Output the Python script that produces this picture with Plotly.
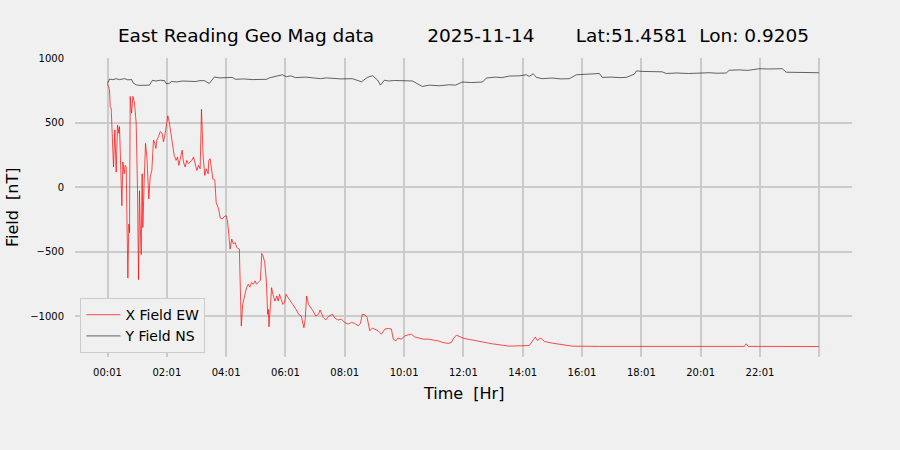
import plotly.graph_objects as go

# ---- data (hours since midnight, nT) ----
x_hours = [0.017, 0.084, 0.107, 0.14, 0.219, 0.264, 0.309, 0.354, 0.399, 0.421, 0.50, 0.534, 0.578, 0.612, 0.646,
           0.702, 0.736, 0.758, 0.781, 0.826, 0.871, 0.927, 0.983, 1.028, 1.062, 1.095, 1.118, 1.152, 1.185, 1.208,
           1.253, 1.298, 1.343, 1.41, 1.455, 1.511, 1.567, 1.612, 1.646, 1.68, 1.736, 1.792, 1.86, 1.904, 1.961,
           2.017, 2.05, 2.095, 2.152, 2.22, 2.264, 2.331, 2.376, 2.421, 2.466, 2.533, 2.578, 2.635, 2.691, 2.747,
           2.803, 2.859, 2.916, 2.972, 3.028, 3.084, 3.14, 3.185, 3.208, 3.241, 3.297, 3.343, 3.41, 3.432, 3.477,
           3.522, 3.567, 3.634, 3.68, 3.761, 3.817, 3.883, 3.95, 4.017, 4.061, 4.106, 4.15, 4.206, 4.261, 4.317,
           4.372, 4.461, 4.528, 4.572, 4.639, 4.706, 4.761, 4.817, 4.872, 4.928, 4.994, 5.039, 5.094, 5.172, 5.217,
           5.261, 5.317, 5.372, 5.417, 5.439, 5.461, 5.506, 5.55, 5.594, 5.661, 5.728, 5.772, 5.817, 5.872, 5.928,
           5.983, 6.039, 6.106, 6.172, 6.261, 6.372, 6.461, 6.55, 6.639, 6.683, 6.728, 6.794, 6.872, 6.95, 7.039,
           7.128, 7.183, 7.29, 7.376, 7.455, 7.6, 7.68, 7.79, 7.9, 8.017, 8.13, 8.24, 8.35, 8.47, 8.545, 8.61, 8.69,
           8.77, 8.86, 8.95, 9.03, 9.14, 9.25, 9.37, 9.48, 9.59, 9.65, 9.74, 9.81, 9.93, 10.04, 10.15, 10.26, 10.37,
           10.49, 10.66, 10.83, 11.0, 11.16, 11.33, 11.5, 11.61, 11.69, 11.78, 11.89, 12.03, 12.22, 12.55, 12.99,
           13.57, 14.24, 14.44, 14.51, 14.63, 14.75, 15.02, 15.48, 15.69, 16.6, 19.0, 19.03, 19.06, 21.49, 21.55,
           21.62, 24.0]
x_field_ew = [800, 755, 625, 612, 156, 443, 117, 482, 417, 469, -143, 195, 104, 169, 156,
              -703, -286, -352, 703, 573, 703, 651, 495, -26, -716, -26, -286, -521, 104, -312,
              52, 339, 234, -91, 78, 130, 365, 339, 300, 365, 391, 430, 417, 352, 417,
              495, 552, 508, 417, 287, 247, 208, 234, 169, 221, 286, 195, 156, 208, 182,
              195, 208, 234, 169, 130, 169, 143, 604, 443, 234, 91, 143, 104, 208, 221,
              130, 65, 57, -117, -168, -238, -246, -228, -220, -259, -363, -479, -401, -440, -427,
              -466, -479, -1075, -907, -842, -777, -751, -772, -738, -751, -725, -751, -738, -720, -513,
              -531, -583, -725, -984, -945, -1080, -932, -777, -829, -881, -842, -881, -829, -868, -907,
              -894, -829, -855, -881, -907, -945, -984, -997, -1088, -1023, -842, -907, -932, -958, -997,
              -984, -950, -1008, -1028, -1003, -982, -1013, -1028, -1021, -1047, -1059, -1047, -1054, -1072, -1054, -982, -987,
              -1008, -1111, -1090, -1098, -1111, -1137, -1098, -1093, -1098, -1176, -1189, -1168, -1176, -1150, -1145, -1137, -1158,
              -1168, -1176, -1176, -1183, -1189, -1202, -1209, -1202, -1168, -1145, -1158, -1170, -1178, -1194, -1212,
              -1230, -1225, -1160, -1186, -1168, -1194, -1207, -1220, -1230, -1232, -1232, -1228, -1232, -1232, -1212,
              -1232, -1233]

y_hours = [0.017, 0.084, 0.2, 0.3, 0.42, 0.5, 0.59, 0.7, 0.83, 0.89, 0.99, 1.1, 1.25, 1.43, 1.53, 1.65, 1.8, 1.94,
           2.0, 2.1, 2.17, 2.35, 2.55, 2.78, 3.0, 3.1, 3.28, 3.45, 3.62, 3.8, 4.0, 4.23, 4.33, 4.6, 4.9, 5.2, 5.38,
           5.48, 5.71, 5.91, 6.05, 6.2, 6.35, 6.49, 6.7, 6.99, 7.2, 7.4, 7.6, 7.9, 8.27, 8.44, 8.58, 8.78, 8.95,
           9.12, 9.22, 9.35, 9.5, 9.7, 9.86, 10.1, 10.3, 10.47, 10.63, 10.87, 11.2, 11.54, 11.75, 11.98, 12.3,
           12.66, 12.79, 13.1, 13.3, 13.57, 13.9, 14.14, 14.24, 14.37, 14.48, 14.68, 15.0, 15.3, 15.59, 15.82,
           16.1, 16.4, 16.6, 16.7, 17.0, 17.3, 17.51, 17.78, 17.85, 18.1, 18.4, 18.72, 18.86, 19.2, 19.6, 19.97,
           20.3, 20.6, 20.88, 20.98, 21.3, 21.6, 21.89, 21.99, 22.3, 22.6, 22.77, 22.9, 23.2, 23.5, 23.9, 24.0]
y_field_ns = [804, 837, 832, 840, 833, 838, 840, 831, 833, 805, 792, 788, 791, 790, 827, 822, 828, 825,
              801, 804, 818, 815, 822, 820, 818, 824, 825, 803, 853, 846, 850, 850, 835, 838, 833, 837, 835,
              847, 862, 870, 855, 862, 848, 850, 852, 845, 840, 846, 842, 838, 840, 825, 816, 850, 863,
              830, 790, 828, 822, 826, 825, 818, 822, 800, 780, 790, 785, 793, 790, 814, 810,
              814, 845, 852, 848, 860, 862, 870, 858, 878, 850, 840, 845, 838, 840, 870,
              872, 878, 880, 850, 852, 848, 850, 875, 900, 896, 893, 893, 880, 884, 880, 884,
              886, 882, 884, 905, 908, 904, 910, 917, 915, 918, 917, 890, 888, 884, 886, 886]

tick_vals = [1 / 60 + 2 * k for k in range(12)] + [24.0167]
tick_text = ["00:01", "02:01", "04:01", "06:01", "08:01", "10:01", "12:01", "14:01",
             "16:01", "18:01", "20:01", "22:01", ""]
y_ticks = [1000, 500, 0, -500, -1000]
y_tick_text = ["1000", "500", "0", "\u2212500", "\u22121000"]

FONT = "DejaVu Sans"
BG = "#f0f0f0"
GRID = "#cbcbcb"

L, R, T, B = 75, 48, 58, 93
PW, PH = 900 - L - R, 450 - T - B

fig = go.Figure()
fig.add_trace(go.Scatter(x=x_hours, y=x_field_ew, mode="lines", name="X Field EW",
                         line=dict(color="#ff0000", width=0.7)))
fig.add_trace(go.Scatter(x=y_hours, y=y_field_ns, mode="lines", name="Y Field NS",
                         line=dict(color="#000000", width=0.6)))

fig.update_layout(
    width=900, height=450,
    paper_bgcolor=BG, plot_bgcolor=BG,
    margin=dict(l=L, r=R, t=T, b=B),
    font=dict(family=FONT, color="#000000"),
    showlegend=True,
    legend=dict(x=0.007, y=0.013, xanchor="left", yanchor="bottom",
                bgcolor=BG, bordercolor="#cccccc", borderwidth=1, itemwidth=34,
                font=dict(size=14, family=FONT), tracegroupgap=0),
    title=dict(text="East Reading Geo Mag data\u00a0\u00a0\u00a0\u00a0\u00a0\u00a0\u00a0\u00a0\u00a02025-11-14"
                    "\u00a0\u00a0\u00a0\u00a0\u00a0\u00a0\u00a0Lat:51.4581\u00a0\u00a0Lon: 0.9205",
               x=0.5, xref="paper", y=1 - 36 / 450, yanchor="middle",
               font=dict(size=18.5, family=FONT, color="#000000")),
    xaxis=dict(range=[-1.08, 25.12], tickmode="array", tickvals=tick_vals, ticktext=tick_text,
               showgrid=True, gridcolor=GRID, gridwidth=2, zeroline=False, showline=False,
               ticks="outside", ticklen=6, tickcolor="rgba(0,0,0,0)",
               tickfont=dict(size=10, family=FONT)),
    yaxis=dict(range=[-1314, 1000], tickmode="array", tickvals=y_ticks, ticktext=y_tick_text,
               showgrid=True, gridcolor=GRID, gridwidth=2, zeroline=False, showline=False,
               ticks="outside", ticklen=8, tickcolor="rgba(0,0,0,0)",
               tickfont=dict(size=10, family=FONT)),
    annotations=[
        dict(text="Time\u00a0\u00a0[Hr]", xref="paper", yref="paper",
             x=(464 - L) / PW, y=(450 - B - 393) / PH, xanchor="center", yanchor="middle",
             showarrow=False, font=dict(size=16, family=FONT)),
        dict(text="Field\u00a0\u00a0[nT]", xref="paper", yref="paper",
             x=(12 - L) / PW, y=(450 - B - 207) / PH, xanchor="center", yanchor="middle",
             textangle=-90, showarrow=False, font=dict(size=16, family=FONT)),
    ],
)
fig.write_html("out.html", config={"displayModeBar": False},
               post_script="document.body.style.margin='0';document.body.style.background='#f0f0f0';")
